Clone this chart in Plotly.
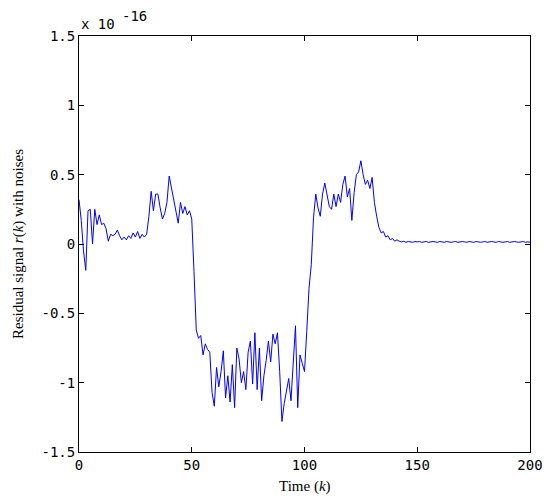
import plotly.graph_objects as go

# Residual signal r(k), in units of 1e-16
k = list(range(201))
r_head = [0.32, 0.17, -0.05, -0.19, 0.24, 0.25, 0.00, 0.25, 0.14, 0.21,
          0.14, 0.15, 0.11, 0.02, 0.07, 0.06, 0.07, 0.10, 0.06, 0.03,
          0.05, 0.03, 0.06, 0.04, 0.08, 0.05, 0.09, 0.04, 0.07, 0.05,
          0.07, 0.20, 0.38, 0.24, 0.36, 0.36, 0.26, 0.18, 0.22, 0.30,
          0.49, 0.40, 0.33, 0.24, 0.15, 0.30, 0.22, 0.27, 0.21, 0.24]
r_low = [0.18, -0.20, -0.62, -0.68, -0.66, -0.80, -0.72, -0.76, -0.78, -1.07,
         -1.17, -0.89, -1.03, -0.92, -0.77, -1.11, -0.95, -1.14, -0.87, -1.18,
         -0.75, -0.83, -1.00, -0.92, -1.05, -0.78, -0.70, -1.01, -0.64, -1.05,
         -0.75, -1.13, -0.95, -0.84, -0.70, -0.85, -0.65, -0.72, -0.64, -0.92,
         -1.28, -1.15, -1.06, -0.97, -1.13, -0.85, -0.59, -1.18, -0.80, -0.86]
r_high = [-0.92, -0.63, -0.32, -0.15, 0.19, 0.36, 0.26, 0.20, 0.36, 0.44,
          0.35, 0.27, 0.25, 0.36, 0.27, 0.36, 0.30, 0.43, 0.49, 0.34,
          0.40, 0.17, 0.37, 0.50, 0.52, 0.60, 0.50, 0.43, 0.46, 0.40,
          0.48, 0.30, 0.20, 0.12, 0.08, 0.09, 0.05, 0.06, 0.03, 0.04,
          0.02, 0.03, 0.02]
r_tail = [0.015, 0.02, 0.012, 0.018, 0.015, 0.012, 0.018, 0.015, 0.018, 0.012,
          0.015, 0.018, 0.012, 0.015, 0.018, 0.015, 0.012, 0.018, 0.015, 0.012,
          0.018, 0.015, 0.012, 0.015, 0.018, 0.012, 0.015, 0.018, 0.015, 0.012,
          0.018, 0.015, 0.012, 0.018, 0.015, 0.012, 0.015, 0.018, 0.012, 0.015,
          0.018, 0.015, 0.012, 0.018, 0.015, 0.012, 0.015, 0.018, 0.012, 0.015,
          0.018, 0.015, 0.012, 0.015, 0.018, 0.012, 0.015, 0.012]
r = r_head + r_low + r_high + r_tail

x_ticks = [0, 50, 100, 150, 200]
y_ticks = [-1.5, -1, -0.5, 0, 0.5, 1, 1.5]
y_tick_text = ["-1.5", "-1", "-0.5", "0", "0.5", "1", "1.5"]

fig = go.Figure()
fig.add_trace(go.Scatter(x=k[:len(r)], y=r, mode="lines",
                         line=dict(color="#0000ff", width=1)))

tick_font = dict(family="DejaVu Sans Mono", size=14, color="black")
label_font = dict(family="Liberation Serif", size=15, color="black")
axis_common = dict(showline=True, linecolor="black", linewidth=1, mirror="ticks",
                   ticks="inside", ticklen=5, tickcolor="black", showgrid=False,
                   zeroline=False, tickfont=tick_font, automargin=False)

# page body adds 8px offset, so the figure is a bit smaller than the window
fig.update_layout(
    width=542, height=491,
    margin=dict(l=71, r=20, t=28, b=47),
    paper_bgcolor="white", plot_bgcolor="white",
    showlegend=False,
    xaxis=dict(range=[0, 200], tickvals=x_ticks, **axis_common),
    yaxis=dict(range=[-1.5, 1.5], tickvals=y_ticks, ticktext=y_tick_text, **axis_common),
)

# axis titles
fig.add_annotation(text="Time (<i>k</i>)", xref="paper", yref="paper", x=0.5, y=0,
                   xanchor="center", yanchor="middle", yshift=-34, showarrow=False,
                   font=label_font)
fig.add_annotation(text="Residual signal <i>r</i>(<i>k</i>) with noises", xref="paper",
                   yref="paper", x=0, y=0.5, xanchor="center", yanchor="middle",
                   xshift=-61, textangle=-90, showarrow=False, font=label_font)

# exponent label
fig.add_annotation(text="x 10", xref="paper", yref="paper", x=0, y=1, xanchor="left",
                   yanchor="middle", showarrow=False, xshift=0, yshift=12,
                   font=tick_font)
fig.add_annotation(text="-16", xref="paper", yref="paper", x=0, y=1, xanchor="left",
                   yanchor="middle", showarrow=False, xshift=41, yshift=20,
                   font=tick_font)

fig.write_html("out.html")
